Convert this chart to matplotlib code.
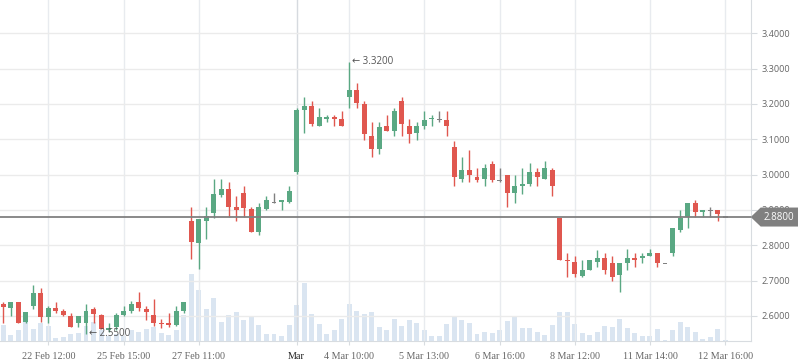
import matplotlib
matplotlib.use('Agg')
import matplotlib.pyplot as plt
from matplotlib.patches import Polygon

opens = [2.633, 2.624, 2.639, 2.584, 2.629, 2.664, 2.596, 2.623, 2.614, 2.601,
         2.581, 2.581, 2.620, 2.603, 2.562, 2.570, 2.604, 2.615, 2.639, 2.620,
         2.603, 2.579, 2.581, 2.575, 2.615, 2.869, 2.806, 2.870, 2.891, 2.943,
         2.959, 2.908, 2.948, 2.902, 2.839, 2.902, 2.922, 2.923, 2.923, 3.008,
         3.183, 3.194, 3.138, 3.158, 3.163, 3.158, 3.220, 3.240, 3.200, 3.109,
         3.073, 3.138, 3.124, 3.208, 3.138, 3.118, 3.138, 3.157, 3.155, 3.155,
         3.078, 2.988, 3.013, 2.993, 2.988, 3.030, 2.984, 2.999, 2.949, 2.969,
         2.974, 3.007, 2.988, 3.013, 2.878, 2.759, 2.753, 2.714, 2.731, 2.754,
         2.764, 2.750, 2.717, 2.751, 2.764, 2.765, 2.771, 2.778, 2.749, 2.779,
         2.844, 2.880, 2.920, 2.895, 2.899, 2.900, 2.880]
highs = [2.639, 2.640, 2.640, 2.611, 2.688, 2.679, 2.628, 2.640, 2.619, 2.608,
         2.600, 2.633, 2.626, 2.606, 2.580, 2.608, 2.628, 2.641, 2.669, 2.628,
         2.648, 2.592, 2.608, 2.628, 2.640, 2.909, 2.875, 2.908, 2.988, 2.988,
         2.979, 2.940, 2.968, 2.908, 2.921, 2.940, 2.948, 2.928, 2.968, 3.188,
         3.220, 3.208, 3.188, 3.169, 3.169, 3.180, 3.320, 3.259, 3.208, 3.149,
         3.149, 3.169, 3.188, 3.220, 3.158, 3.149, 3.180, 3.169, 3.180, 3.180,
         3.095, 3.050, 3.070, 3.019, 3.030, 3.039, 3.019, 2.999, 2.999, 3.019,
         3.033, 3.019, 3.039, 3.019, 2.878, 2.778, 2.770, 2.758, 2.758, 2.787,
         2.778, 2.770, 2.750, 2.790, 2.778, 2.778, 2.790, 2.778, 2.749, 2.849,
         2.901, 2.920, 2.928, 2.900, 2.908, 2.900, 2.880]
lows = [2.581, 2.600, 2.580, 2.579, 2.620, 2.582, 2.581, 2.608, 2.601, 2.570,
        2.570, 2.550, 2.581, 2.562, 2.556, 2.560, 2.601, 2.609, 2.615, 2.589,
        2.573, 2.567, 2.570, 2.573, 2.609, 2.760, 2.732, 2.819, 2.876, 2.936,
        2.881, 2.870, 2.881, 2.839, 2.830, 2.900, 2.921, 2.900, 2.921, 3.001,
        3.119, 3.138, 3.138, 3.149, 3.138, 3.138, 3.189, 3.189, 3.098, 3.050,
        3.058, 3.124, 3.109, 3.109, 3.090, 3.098, 3.129, 3.138, 3.149, 3.109,
        2.969, 2.980, 2.980, 2.980, 2.969, 2.980, 2.980, 2.909, 2.921, 2.945,
        2.969, 2.969, 2.988, 2.940, 2.759, 2.711, 2.711, 2.711, 2.731, 2.740,
        2.720, 2.700, 2.669, 2.731, 2.740, 2.751, 2.771, 2.740, 2.749, 2.770,
        2.839, 2.849, 2.880, 2.880, 2.880, 2.870, 2.880]
closes = [2.626, 2.639, 2.581, 2.610, 2.664, 2.596, 2.623, 2.615, 2.604, 2.570,
          2.600, 2.614, 2.605, 2.562, 2.564, 2.603, 2.614, 2.633, 2.623, 2.610,
          2.581, 2.577, 2.575, 2.615, 2.639, 2.810, 2.874, 2.883, 2.945, 2.959,
          2.909, 2.901, 2.906, 2.839, 2.908, 2.928, 2.922, 2.928, 2.954, 3.183,
          3.194, 3.143, 3.163, 3.163, 3.158, 3.138, 3.240, 3.204, 3.115, 3.073,
          3.135, 3.124, 3.180, 3.143, 3.115, 3.138, 3.155, 3.160, 3.155, 3.138,
          2.994, 3.013, 2.999, 2.986, 3.019, 2.986, 2.984, 2.949, 2.968, 2.973,
          3.007, 2.994, 3.019, 2.969, 2.759, 2.757, 2.720, 2.730, 2.758, 2.764,
          2.731, 2.711, 2.750, 2.764, 2.759, 2.770, 2.778, 2.751, 2.749, 2.849,
          2.878, 2.920, 2.895, 2.900, 2.899, 2.890, 2.880]
volumes = [16, 6, 11, 19, 12, 18, 15, 3, 4, 7,
           8, 15, 19, 11, 5, 7, 5, 11, 9, 12,
           14, 8, 6, 11, 26, 67, 51, 32, 43, 19,
           26, 29, 21, 25, 16, 7, 7, 5, 16, 36,
           58, 27, 17, 7, 11, 22, 37, 30, 27, 29,
           14, 11, 22, 15, 21, 18, 11, 5, 5, 17,
           25, 21, 18, 7, 9, 8, 11, 20, 24, 13,
           13, 9, 6, 16, 29, 29, 17, 8, 6, 9,
           15, 14, 22, 13, 8, 5, 5, 12, 1, 11,
           19, 14, 9, 2, 4, 12, 1]

tick_pos = [6, 16, 26, 39, 46, 56, 66, 76, 86, 96]
tick_labels = ['22 Feb 12:00', '25 Feb 15:00', '27 Feb 11:00', 'Mar', '4 Mar 10:00',
               '5 Mar 13:00', '6 Mar 16:00', '8 Mar 12:00', '11 Mar 14:00', '12 Mar 16:00']
y_ticks = [2.6, 2.7, 2.8, 2.9, 3.0, 3.1, 3.2, 3.3, 3.4]
last_price = 2.88
high_idx, high_val = 46, 3.32
low_idx, low_val = 11, 2.55

GREEN = '#5aa883'
RED = '#e0574f'
GRAY = '#808080'
VOLC = '#dae5f1'

fig = plt.figure(figsize=(7.98, 3.63), dpi=100)
rect = [0, 22 / 363, 750.7 / 798, 341 / 363]
vax = fig.add_axes(rect)
ax = fig.add_axes(rect)
ax.patch.set_visible(False)

n = len(opens)
idx = list(range(n))

# volume
vax.bar(idx, volumes, width=0.66, color=VOLC, zorder=1)
vax.set_ylim(0, 341)
vax.set_xlim(-0.44, 99.4)
vax.set_yticks([])
vax.set_xticks([])
for s in vax.spines.values():
    s.set_visible(False)

colors = []
for o, c in zip(opens, closes):
    colors.append(GREEN if c > o else (RED if c < o else GRAY))

ax.vlines(idx, lows, highs, colors=colors, linewidth=1.0, zorder=3)
bottoms = [min(o, c) for o, c in zip(opens, closes)]
heights = [max(abs(c - o), 0.0035) for o, c in zip(opens, closes)]
bots = [b if abs(c - o) >= 0.0035 else (o + c) / 2 - 0.00175
        for b, o, c in zip(bottoms, opens, closes)]
ax.bar(idx, heights, bottom=bots, width=0.66, color=colors, zorder=4, linewidth=0)

ax.set_ylim(2.5292, 3.4942)
ax.set_xlim(-0.44, 99.4)

# grids
ax.set_yticks(y_ticks)
ax.set_yticklabels([f'{v:.4f}' for v in y_ticks])
ax.set_xticks(tick_pos)
ax.set_xticklabels(tick_labels)
ax.grid(True, axis='y', color='#ebebeb', linewidth=1, zorder=0)
ax.grid(True, axis='x', color='#e8ebef', linewidth=1, zorder=0)
for i, gl in enumerate(ax.get_xgridlines()):
    if tick_labels[i] == 'Mar':
        gl.set_color('#d6dadf')
ax.set_axisbelow(True)

ax.yaxis.tick_right()
ax.tick_params(axis='y', length=4, width=0.8, color='#d8dce0', pad=4,
               labelsize=6.6, labelcolor='#666666')
ax.tick_params(axis='x', length=3, width=0.8, color='#d8dce0', pad=5,
               labelsize=7.3, labelcolor='#666666')
for lab in ax.get_yticklabels():
    lab.set_fontfamily('Open Sans')
for i, lab in enumerate(ax.get_xticklabels()):
    lab.set_fontfamily('Liberation Serif')
    if tick_labels[i] == 'Mar':
        lab.set_color('#222222')

for k in ['top', 'left']:
    ax.spines[k].set_visible(False)
ax.spines['right'].set_color('#d8dce0')
ax.spines['bottom'].set_color('#d8dce0')

# last price line
ax.axhline(last_price, color=GRAY, linewidth=1.3, zorder=5)

# high / low markers
ax.annotate(f'← {high_val:.4f}', xy=(high_idx, high_val), xytext=(2, 0),
            textcoords='offset points', ha='left', va='center', fontsize=7,
            color='#555555', family=['Open Sans', 'DejaVu Sans'], zorder=6)
ax.annotate(f'← {low_val:.4f}', xy=(low_idx, low_val), xytext=(2, 0),
            textcoords='offset points', ha='left', va='center', fontsize=7,
            color='#555555', family=['Open Sans', 'DejaVu Sans'], zorder=6)

# price label box
fig.canvas.draw()
xr = ax.transAxes.transform((1.0, 0))[0]
yc = ax.transData.transform((0, last_price))[1]
W = fig.bbox.width
box = Polygon([(xr, yc), (xr + 10, yc + 9.5), (W, yc + 9.5), (W, yc - 9.5), (xr + 10, yc - 9.5)],
              closed=True, transform=None, facecolor=GRAY, edgecolor='none', zorder=10)
fig.add_artist(box)
fig.text((xr + 10 + W) / 2 / W, yc / fig.bbox.height, f'{last_price:.4f}', ha='center', va='center',
         color='white', fontsize=7, family='Open Sans', zorder=11)

fig.savefig('out.png', dpi=100)
